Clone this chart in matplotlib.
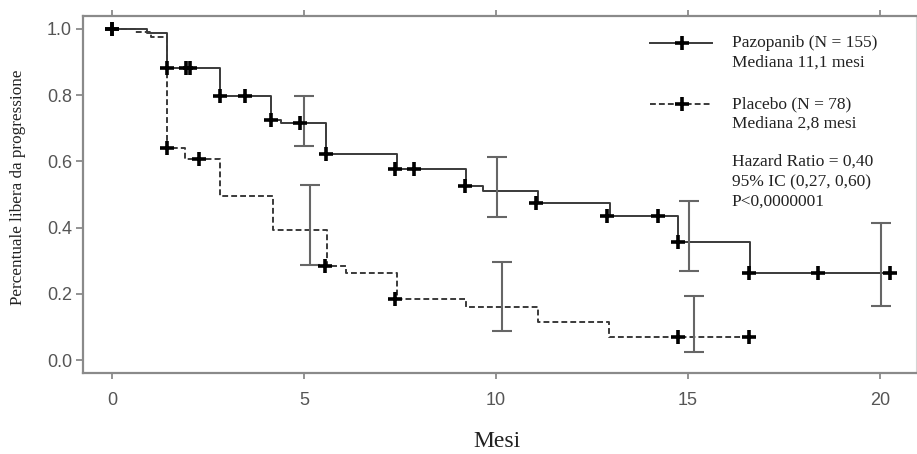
import matplotlib
matplotlib.use("Agg")
import matplotlib.pyplot as plt
import numpy as np

# Pazopanib (solid) step curve
paz_t = [0, 0.9, 1.43, 2.81, 4.15, 4.4, 5.57, 7.43, 9.23, 9.65, 11.1, 12.96, 14.73, 16.62, 20.3]
paz_s = [1.0, 0.987, 0.883, 0.797, 0.725, 0.715, 0.622, 0.576, 0.526, 0.511, 0.475, 0.436, 0.357, 0.262, 0.262]
paz_cens_t = [0, 1.43, 1.93, 2.03, 2.81, 3.46, 4.15, 4.89, 5.57, 7.38, 7.86, 9.19, 11.04, 12.88, 14.22, 14.74, 16.6, 18.4, 20.27]
paz_cens_s = [1.0, 0.883, 0.883, 0.883, 0.797, 0.797, 0.725, 0.715, 0.622, 0.576, 0.576, 0.526, 0.475, 0.436, 0.436, 0.357, 0.262, 0.262, 0.262]
paz_ci_t = [5.0, 10.03, 15.02, 20.03]
paz_ci_mid = [0.715, 0.511, 0.357, 0.262]
paz_ci_lo = [0.647, 0.431, 0.269, 0.164]
paz_ci_hi = [0.797, 0.614, 0.479, 0.415]

# Placebo (dashed) step curve
pla_t = [0, 0.6, 1.0, 1.43, 1.9, 2.81, 4.2, 5.59, 6.09, 7.43, 9.23, 11.1, 12.94, 16.58]
pla_s = [1.0, 0.99, 0.975, 0.639, 0.606, 0.495, 0.392, 0.284, 0.264, 0.183, 0.159, 0.115, 0.069, 0.069]
pla_cens_t = [0, 1.43, 2.26, 5.54, 7.37, 14.73, 16.58]
pla_cens_s = [1.0, 0.639, 0.606, 0.284, 0.183, 0.069, 0.069]
pla_ci_t = [5.15, 10.16, 15.16]
pla_ci_mid = [0.392, 0.159, 0.069]
pla_ci_lo = [0.287, 0.088, 0.024]
pla_ci_hi = [0.53, 0.296, 0.195]

x_ticks = [0, 5, 10, 15, 20]
y_ticks = [0.0, 0.2, 0.4, 0.6, 0.8, 1.0]

serif = "Liberation Serif"
sans = "Liberation Sans"
line_col = "#3a3a3a"
ci_col = "#666666"
axis_col = "#8a8a8a"
mk = dict(color="black", ms=10, mew=2.6)

fig = plt.figure(figsize=(9.17, 4.54), dpi=100)
ax = fig.add_axes([83 / 917, 81 / 454, 833 / 917, 357 / 454])

ax.step(paz_t, paz_s, where="post", color=line_col, lw=1.4)
ax.step(pla_t, pla_s, where="post", color=line_col, lw=1.4, linestyle=(0, (3, 1.6)))

ax.errorbar(paz_ci_t, paz_ci_mid,
            yerr=[np.subtract(paz_ci_mid, paz_ci_lo), np.subtract(paz_ci_hi, paz_ci_mid)],
            fmt="none", ecolor=ci_col, elinewidth=1.5, capsize=7.5, capthick=1.5)
ax.errorbar(pla_ci_t, pla_ci_mid,
            yerr=[np.subtract(pla_ci_mid, pla_ci_lo), np.subtract(pla_ci_hi, pla_ci_mid)],
            fmt="none", ecolor=ci_col, elinewidth=1.5, capsize=7.5, capthick=1.5)

ax.plot(paz_cens_t, paz_cens_s, "+", zorder=5, **mk)
ax.plot(pla_cens_t, pla_cens_s, "+", zorder=5, **mk)

ax.set_xlim(-0.76, 20.94)
ax.set_ylim(-0.039, 1.039)
ax.set_xticks(x_ticks)
ax.set_yticks(y_ticks)
ax.set_xticklabels([str(v) for v in x_ticks], family=sans, fontsize=13, color="#555555")
ax.set_yticklabels([f"{v:.1f}" for v in y_ticks], family=sans, fontsize=13, color="#555555")
ax.tick_params(axis="x", length=4, width=1.3, color=axis_col, pad=10, top=True)
ax.tick_params(axis="y", length=5, width=1.3, color=axis_col, pad=3)

for side in ["left", "bottom", "top"]:
    ax.spines[side].set_color(axis_col)
    ax.spines[side].set_linewidth(1.6)
ax.spines["right"].set_color("#d5d5d5")
ax.spines["right"].set_linewidth(0.8)

# legend, drawn by hand to keep the handle beside the first text line
tr = ax.transAxes
ax.plot([0.681, 0.755], [0.9235, 0.9235], color=line_col, lw=1.4, transform=tr, clip_on=False)
ax.plot([0.719], [0.9235], "+", transform=tr, clip_on=False, **mk)
ax.plot([0.681, 0.755], [0.7535, 0.7535], color=line_col, lw=1.4, linestyle=(0, (3, 1.6)),
        transform=tr, clip_on=False)
ax.plot([0.719], [0.7535], "+", transform=tr, clip_on=False, **mk)

legend_lines = ["Pazopanib (N = 155)", "Mediana 11,1 mesi", "Placebo (N = 78)", "Mediana 2,8 mesi",
                "Hazard Ratio = 0,40", "95% IC (0,27, 0,60)", "P<0,0000001"]
legend_y = [0.9235, 0.869, 0.7535, 0.6975, 0.592, 0.533, 0.480]
for txt, yy in zip(legend_lines, legend_y):
    ax.text(0.779, yy, txt, transform=tr, family=serif, fontsize=12.5, color="#222222",
            ha="left", va="center")

fig.text(18 / 917, 0.588, "Percentuale libera da progressione", family=serif, fontsize=12.3,
         color="#222222", rotation=90, ha="center", va="center")
fig.text(0.5415, 0.028, "Mesi", family=serif, fontsize=17, color="#222222", ha="center", va="center")

fig.savefig("out.png", dpi=100)
